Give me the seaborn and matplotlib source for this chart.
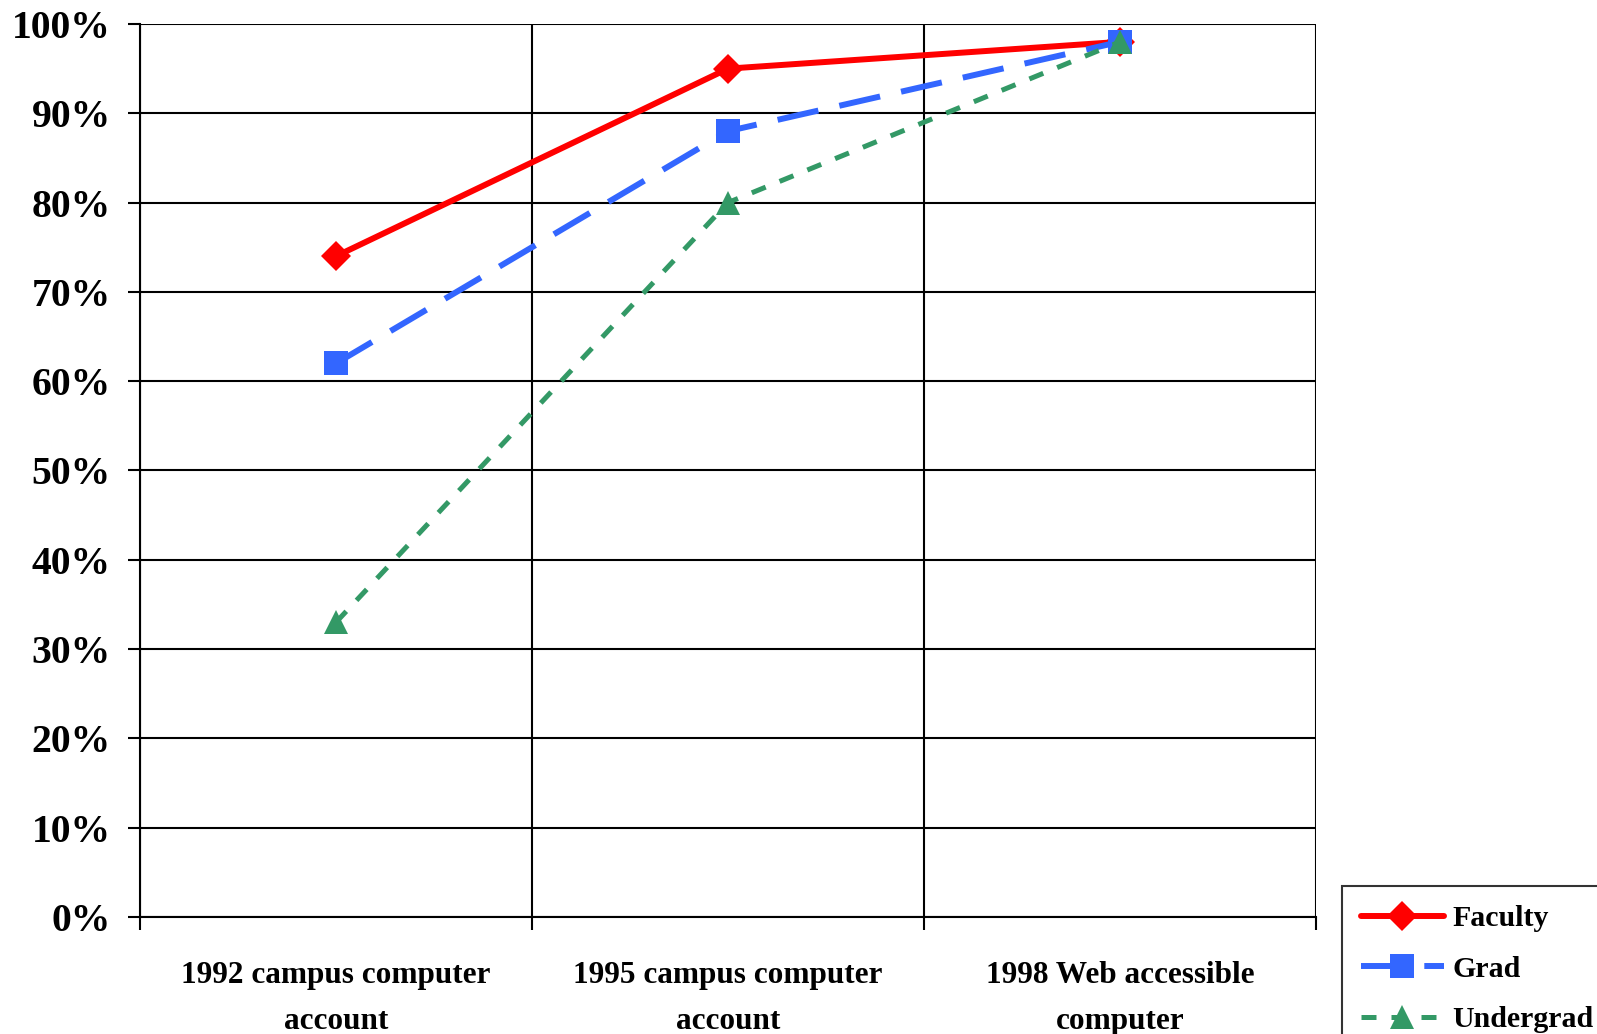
import numpy as np
import pandas as pd
import matplotlib
matplotlib.use("Agg")
import matplotlib.pyplot as plt
import seaborn as sns

# data
categories = ["1992 campus computer\naccount", "1995 campus computer\naccount", "1998 Web accessible\ncomputer"]
groups = ["Faculty", "Grad", "Undergrad"]
faculty = [74, 95, 98]
grad = [62, 88, 98]
undergrad = [33, 80, 98]

colors = {"Faculty": "#FF0000", "Grad": "#3366FF", "Undergrad": "#339966"}
markers = {"Faculty": "D", "Grad": "s", "Undergrad": "^"}
dashes = {"Faculty": "", "Grad": (7, 3.6), "Undergrad": (3.0, 3.0)}
widths = {"Faculty": 4.3, "Grad": 4.3, "Undergrad": 3.6}
msizes = {"Faculty": 15, "Grad": 17, "Undergrad": 17}

df = pd.DataFrame({
    "pos": list(range(len(categories))) * 3,
    "value": faculty + grad + undergrad,
    "Group": np.repeat(groups, len(categories)),
})

sns.set_theme(style="white")
plt.rcParams["font.family"] = ["Liberation Serif", "DejaVu Serif"]
plt.rcParams["font.weight"] = "bold"
plt.rcParams["text.color"] = "black"
plt.rcParams["xtick.color"] = "black"
plt.rcParams["ytick.color"] = "black"

fig = plt.figure(figsize=(15.97, 10.34), dpi=100)
ax = fig.add_axes([0.0877, 0.1132, 0.7363, 0.8636])

sns.lineplot(data=df, x="pos", y="value", hue="Group", style="Group",
             palette=colors, markers=markers, dashes=dashes, ax=ax,
             linewidth=4.3, markersize=17, markeredgewidth=0, legend=False)
for line, g in zip(ax.lines, groups):
    line.set_linewidth(widths[g])
    line.set_markersize(msizes[g])

ax.set_xlim(-0.5, len(categories) - 0.5)
ax.set_ylim(0, 100)
ax.set_yticks(np.arange(0, 101, 10))
ax.set_yticklabels([f"{v}%" for v in range(0, 101, 10)], fontsize=28.5, fontweight="bold")
ax.set_xticks(range(len(categories)))
ax.set_xticklabels(categories, fontsize=22.5, fontweight="bold", linespacing=1.75)
ax.set_xticks(np.arange(-0.5, len(categories), 1), minor=True)
ax.tick_params(axis="x", which="major", length=0, pad=32)
ax.tick_params(axis="x", which="minor", length=9, width=1.5, color="black", direction="out", bottom=True)
ax.tick_params(axis="y", length=9, width=1.5, color="black", direction="out", left=True, pad=12)
ax.grid(axis="y", color="black", linewidth=1.5)
ax.grid(axis="x", which="minor", color="black", linewidth=1.5)
ax.set_axisbelow(True)
for s in ax.spines.values():
    s.set_color("black")
    s.set_linewidth(1.5)
ax.spines["top"].set_visible(False)
ax.spines["right"].set_visible(False)
ax.set_xlabel("")
ax.set_ylabel("")

handles = []
for g in groups:
    h = plt.Line2D([], [], color=colors[g], marker=markers[g], markersize=msizes[g],
                   markeredgewidth=0, linewidth=widths[g])
    if dashes[g]:
        h.set_dashes(dashes[g])
    handles.append(h)
leg = fig.legend(handles, groups, loc="upper left", bbox_to_anchor=(1342 / 1597, 1 - 886 / 1034),
                 frameon=True, fancybox=False, prop={"size": 21.5, "weight": "bold"},
                 handlelength=2.75, handletextpad=0.3, labelspacing=0.78, borderpad=0.65,
                 borderaxespad=0)
leg.get_frame().set_edgecolor("black")
leg.get_frame().set_linewidth(1.5)

fig.savefig("out.png", dpi=100)
